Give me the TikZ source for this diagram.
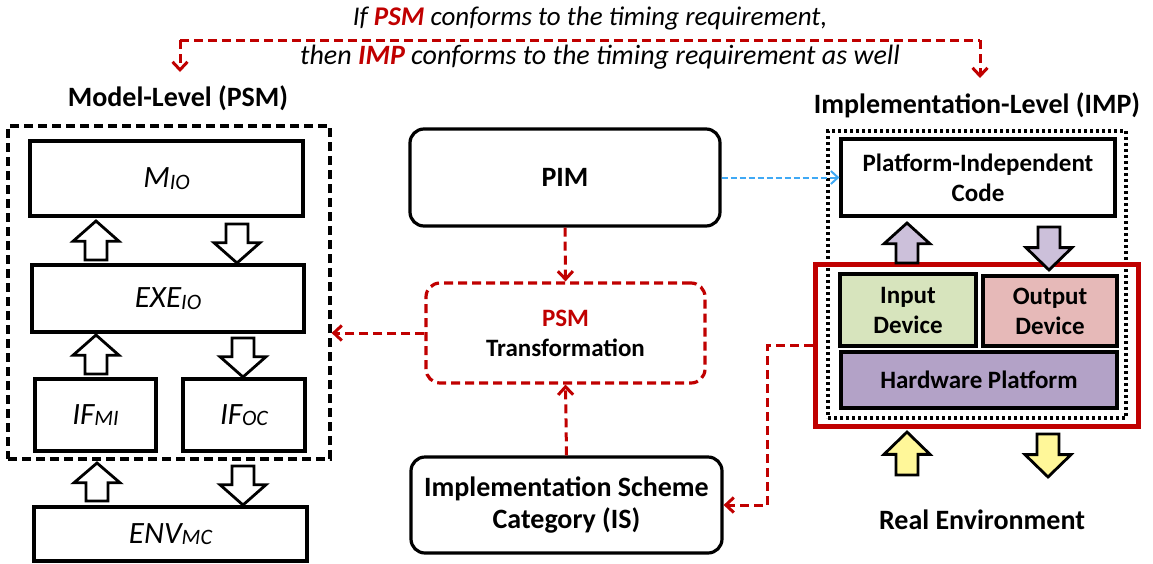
\documentclass[tikz,border=0pt]{standalone}
\usepackage{fontspec}
\setmainfont{Carlito}
\usetikzlibrary{arrows.meta}

\definecolor{psmred}{HTML}{C00000}
\definecolor{linkblue}{HTML}{3FA9F5}
\definecolor{ingreen}{HTML}{D7E4BD}
\definecolor{outpink}{HTML}{E6B9B8}
\definecolor{hwpurple}{HTML}{B3A2C7}
\definecolor{arrpurple}{HTML}{CCC0DA}
\definecolor{arryellow}{HTML}{FFF799}

% block arrow: x, tail y, tip y, fill
\newcommand{\blockarr}[4]{%
  \pgfmathsetmacro\arrlen{#3-#2}%
  \pgfmathsetmacro\arrneck{0.48*(#3-#2)}%
  \draw[line width=2.8pt,fill=#4,shift={(#1,#2)}]
    (-11,0) -- (11,0) -- (11,\arrneck) -- (23,\arrneck) -- (0,\arrlen)
    -- (-23,\arrneck) -- (-11,\arrneck) -- cycle;}
\newcommand{\lowsub}[1]{\raisebox{-1.5pt}{\fontsize{22}{22}\selectfont #1}}

\begin{document}
\begin{tikzpicture}[x=1pt,y=-1pt,
  box/.style={draw,line width=3.2pt,inner sep=0pt,align=center},
  rbox/.style={box,rounded corners=14pt},
  mathlbl/.style={font=\fontsize{31}{34}\selectfont\itshape},
  boldlbl/.style={font=\fontsize{28}{32}\selectfont\bfseries},
  smalllbl/.style={font=\fontsize{25}{30}\selectfont\bfseries},
  reddash/.style={draw=psmred,line width=3pt,dash pattern=on 9pt off 5pt,
    -{Straight Barb[length=8pt,width=15pt]}},
  bluedash/.style={draw=linkblue,line width=2pt,dash pattern=on 6pt off 3pt,
    -{Straight Barb[length=7pt,width=13pt]}}]
\useasboundingbox (0,0) rectangle (1153,563);

% model level
\node[box,dash pattern=on 9pt off 5pt,minimum width=322,minimum height=333] (psm) at (169,292.5) {};
\node[boldlbl] (modellbl) at (178,98) {Model-Level (PSM)};
\node[box,mathlbl,minimum width=273,minimum height=75] (mio) at (166.5,178.5) {M\lowsub{IO}};
\node[box,mathlbl,minimum width=272,minimum height=67] (exe) at (168,298.5) {EXE\lowsub{IO}};
\node[box,mathlbl,minimum width=121,minimum height=72] (ifmi) at (95.5,415) {IF\lowsub{MI}};
\node[box,mathlbl,minimum width=122,minimum height=72] (ifoc) at (244,415) {IF\lowsub{OC}};
\node[box,mathlbl,minimum width=273,minimum height=54] (env) at (170.5,534) {ENV\lowsub{MC}};

\blockarr{96}{260}{221}{white}
\blockarr{237}{224}{263}{white}
\blockarr{96}{374}{335}{white}
\blockarr{243}{338}{377}{white}
\blockarr{97}{501}{463}{white}
\blockarr{243}{466}{505}{white}

% middle
\node[rbox,boldlbl,minimum width=310,minimum height=97] (pim) at (565,177.5) {PIM};
\node[rbox,draw=psmred,dash pattern=on 9pt off 5pt,minimum width=279,minimum height=100,font=\fontsize{25}{30}\selectfont\bfseries]
  (trans) at (565.5,333) {{\color{psmred}PSM}\\Transformation};
\node[rbox,boldlbl,minimum width=311,minimum height=96] (is) at (566.5,505) {Implementation Scheme\\Category (IS)};

% implementation level
\node[boldlbl] (implbl) at (977,105) {Implementation-Level (IMP)};
\node[box,dash pattern=on 3pt off 3pt,minimum width=298,minimum height=287] (imp) at (977,274.5) {};
\node[box,smalllbl,minimum width=274,minimum height=77] (pic) at (978,177.5) {Platform-Independent\\Code};
\node[draw=psmred,line width=5pt,minimum width=323,minimum height=162,inner sep=0pt] (hw) at (976.5,345) {};
\node[box,smalllbl,fill=ingreen,minimum width=136,minimum height=72] (input) at (908,310) {Input\\Device};
\node[box,smalllbl,fill=outpink,minimum width=134,minimum height=70] (output) at (1050,311) {Output\\Device};
\node[box,smalllbl,fill=hwpurple,minimum width=276,minimum height=56] (hwp) at (979,380) {Hardware Platform};
\node[boldlbl] (realenv) at (982,520) {Real Environment};

\blockarr{907}{263}{223}{arrpurple}
\blockarr{1049}{227}{270}{arrpurple}
\blockarr{907}{475}{432}{arryellow}
\blockarr{1048}{434}{477}{arryellow}

% connectors
\draw[reddash] (pim.south) -- (trans.north);
\draw[reddash] (is.north) -- (trans.south);
\draw[reddash] (trans.west) -- (trans.west -| psm.east);
\draw[reddash] (hw.west) -- ++(-45,0) |- (is.east);
\draw[bluedash] (pim.east) -- (pic.west);

% claim on top
\node[font=\fontsize{27}{32}\selectfont\itshape] (claima) at (590,18)
  {If {\bfseries\color{psmred}PSM} conforms to the timing requirement,};
\node[font=\fontsize{28}{32}\selectfont\itshape] (claimb) at (600,57)
  {then {\bfseries\color{psmred}IMP} conforms to the timing requirement as well};
\coordinate (cl) at (180,40);
\coordinate (cr) at (980,40);
\draw[reddash,-] (cl) -- (cr);
\draw[reddash] (cl) -- (180,72);
\draw[reddash] (cr) -- (980,78);
\end{tikzpicture}
\end{document}
